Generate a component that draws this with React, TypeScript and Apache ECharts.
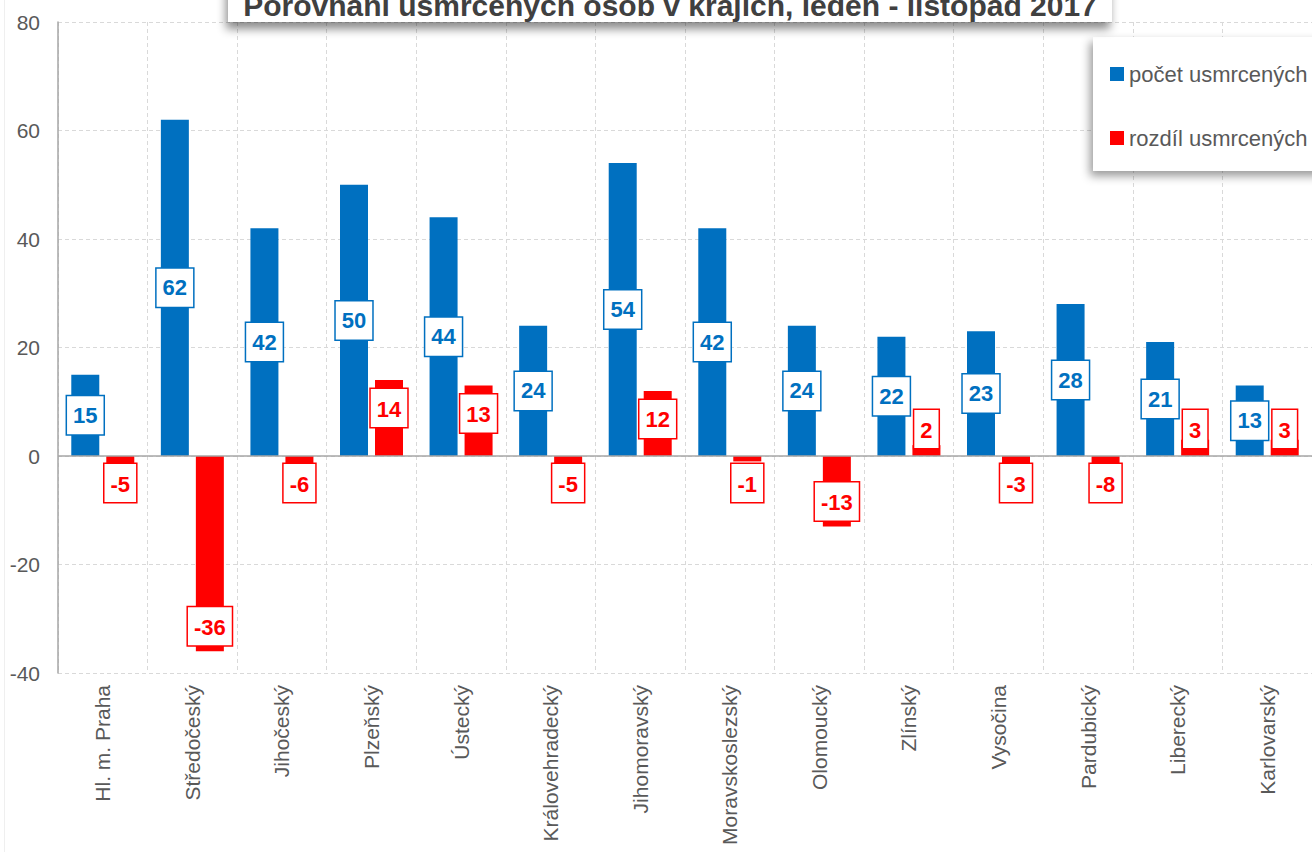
import React, { useEffect, useRef } from "react";
import * as echarts from "echarts";

const categories = [
  "Hl. m. Praha",
  "Středočeský",
  "Jihočeský",
  "Plzeňský",
  "Ústecký",
  "Královehradecký",
  "Jihomoravský",
  "Moravskoslezský",
  "Olomoucký",
  "Zlínský",
  "Vysočina",
  "Pardubický",
  "Liberecký",
  "Karlovarský",
];
const pocetUsmrcenych = [15, 62, 42, 50, 44, 24, 54, 42, 24, 22, 23, 28, 21, 13];
const rozdilUsmrcenych = [-5, -36, -6, 14, 13, -5, 12, -1, -13, 2, -3, -8, 3, 3];
const yTicks = { min: -40, max: 80, interval: 20 };
const titleText = "Porovnání usmrcených osob v krajích, leden - listopad 2017";
const seriesNames = ["počet usmrcených", "rozdíl usmrcených"];

const FONT = '"Liberation Sans Narrow", "Liberation Sans", Arial, sans-serif';
const BLUE = "#0070C0";
const RED = "#FF0000";
const GRAY_TEXT = "#595959";

function labelBox(color: string) {
  return {
    show: true,
    color,
    fontFamily: FONT,
    fontSize: 22,
    fontWeight: "bold" as const,
    backgroundColor: "#ffffff",
    borderColor: color,
    borderWidth: 1.5,
    padding: [9, 6, 7, 6],
  };
}

export default function App() {
  const ref = useRef<HTMLDivElement>(null);

  useEffect(() => {
    if (!ref.current) return;
    const chart = echarts.init(ref.current, undefined, { renderer: "svg" });

    const redData = rozdilUsmrcenych.map((v) => {
      let position = "insideTop";
      let distance = 8;
      if (v >= 10) {
        position = "insideTop";
        distance = 9;
      } else if (v > 0) {
        position = "insideBottom";
        distance = 8;
      } else if (v > -10) {
        position = "insideTop";
        distance = 8;
      } else {
        position = "insideBottom";
        distance = 6;
      }
      return { value: v, label: { position, distance } };
    });

    chart.setOption({
      animation: false,
      backgroundColor: "#ffffff",
      grid: { left: 58, top: 22, width: 1260, height: 651, containLabel: false },
      legend: {
        z: 20,
        orient: "vertical",
        left: 1110,
        top: 63,
        padding: 0,
        itemWidth: 14,
        itemHeight: 14,
        itemGap: 42,
        icon: "rect",
        textStyle: { fontFamily: FONT, fontSize: 22, color: GRAY_TEXT },
        data: seriesNames,
      },
      xAxis: {
        type: "category",
        data: categories,
        boundaryGap: true,
        axisLine: { show: false, onZero: false },
        axisTick: { show: false },
        splitLine: {
          show: true,
          interval: 0,
          lineStyle: { color: "#d9d9d9", type: [4, 3], width: 1 },
        },
        axisLabel: {
          interval: 0,
          rotate: 90,
          margin: 12,
          fontFamily: FONT,
          fontSize: 21,
          color: GRAY_TEXT,
        },
      },
      yAxis: {
        type: "value",
        min: yTicks.min,
        max: yTicks.max,
        interval: yTicks.interval,
        axisLine: { show: true, lineStyle: { color: "#a6a6a6", width: 1.5 } },
        axisTick: { show: false },
        splitLine: { show: true, lineStyle: { color: "#d9d9d9", type: [4, 3], width: 1 } },
        axisLabel: { margin: 18, fontFamily: FONT, fontSize: 21, color: GRAY_TEXT },
      },
      graphic: [
        {
          type: "line",
          z: -10,
          shape: { x1: 4.5, y1: 0, x2: 4.5, y2: 852 },
          style: { stroke: "#efefef", lineWidth: 1 },
        },
        {
          type: "rect",
          z: 50,
          shape: { x: 228, y: -40, width: 884, height: 62 },
          style: {
            fill: "#ffffff",
            shadowBlur: 10,
            shadowColor: "rgba(0,0,0,0.45)",
            shadowOffsetX: -2,
            shadowOffsetY: 7,
          },
        },
        {
          type: "text",
          z: 51,
          x: 670,
          y: 20,
          style: {
            text: titleText,
            fill: "#404040",
            font: `bold 30px ${FONT}`,
            align: "center",
            verticalAlign: "bottom",
          },
        },
        {
          type: "rect",
          z: 5,
          shape: { x: 1093, y: 37, width: 240, height: 134 },
          style: {
            fill: "#ffffff",
            shadowBlur: 10,
            shadowColor: "rgba(0,0,0,0.4)",
            shadowOffsetX: -3,
            shadowOffsetY: 5,
          },
        },
      ],
      series: [
        {
          name: seriesNames[0],
          type: "bar",
          barWidth: 28,
          barGap: "25%",
          itemStyle: { color: BLUE },
          label: { ...labelBox(BLUE), position: "inside" },
          data: pocetUsmrcenych,
          markLine: {
            silent: true,
            symbol: ["none", "none"],
            label: { show: false },
            lineStyle: { color: "#a6a6a6", type: "solid", width: 1.5 },
            data: [{ yAxis: 0 }],
          },
        },
        {
          name: seriesNames[1],
          type: "bar",
          barWidth: 28,
          barGap: "25%",
          itemStyle: { color: RED },
          label: labelBox(RED),
          data: redData,
        },
      ],
    });

    return () => chart.dispose();
  }, []);

  return (
    <div
      ref={ref}
      style={{ position: "fixed", left: 0, top: 0, width: 1312, height: 852 }}
    />
  );
}
